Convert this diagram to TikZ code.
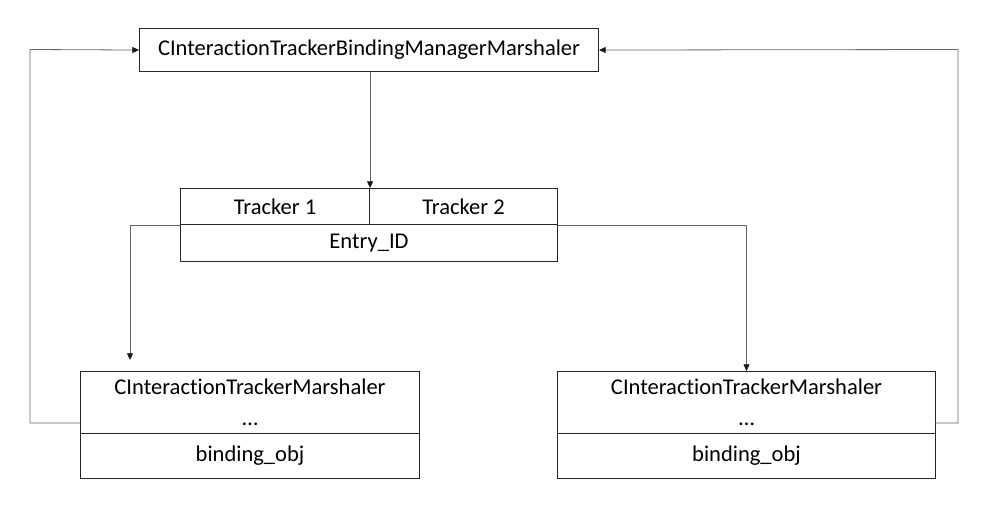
\documentclass[tikz,border=0pt]{standalone}
\usepackage{fontspec}
\setmainfont[Ligatures={NoCommon}]{Carlito}
\usetikzlibrary{arrows.meta}
\begin{document}
\begin{tikzpicture}[x=0.75pt,y=-0.75pt,
  box/.style={draw=black!85,line width=0.8pt,inner sep=0pt,anchor=north west,
    font=\fontsize{16.9}{20}\selectfont,align=center},
  conn/.style={draw=black!60,line width=0.6pt},
  arr/.style={conn,-{Triangle[length=5pt,width=4.5pt,color=black!90]}}]
\useasboundingbox[fill=white] (0,0) rectangle (1000,524);
% top box
\node[box,minimum width=459*0.75pt,minimum height=43*0.75pt] (top) at (139,28) {CInteractionTrackerBindingManagerMarshaler};
% table
\node[box,minimum width=189*0.75pt,minimum height=36*0.75pt] (t1) at (180,188) {Tracker 1};
\node[box,minimum width=188*0.75pt,minimum height=36*0.75pt] (t2) at (369,188) {Tracker 2};
\node[box,minimum width=377*0.75pt,minimum height=37*0.75pt] (eid) at (180,224) {Entry\_ID};
% bottom left
\node[box,minimum width=339*0.75pt,minimum height=62*0.75pt] (ltop) at (80,371) {CInteractionTrackerMarshaler\\[3pt]…};
\node[box,minimum width=339*0.75pt,minimum height=45*0.75pt] (lbot) at (80,433) {binding\_obj};
% bottom right
\node[box,minimum width=378*0.75pt,minimum height=62*0.75pt] (rtop) at (557,371) {CInteractionTrackerMarshaler\\[3pt]…};
\node[box,minimum width=378*0.75pt,minimum height=45*0.75pt] (rbot) at (557,433) {binding\_obj};
% coordinates
\coordinate (la) at (130,360);
\coordinate (lf) at (80,423);
\coordinate (rf) at (935,423);
\coordinate (lc) at (30,49.5);
\coordinate (rc) at (958,49.5);
% connectors
\draw[arr] (top.south -| t1.north east) -- (t1.north east);
\draw[arr] (t1.south west) -| (la);
\draw[arr] (t2.south east) -| (rtop.north);
\draw[arr] (lf) -| (lc) -- (top.west);
\draw[arr] (rf) -| (rc) -- (top.east);
\end{tikzpicture}
\end{document}
